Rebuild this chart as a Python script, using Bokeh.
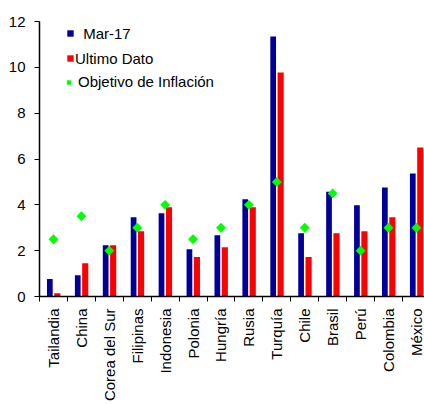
import numpy as np
from bokeh.plotting import figure
from bokeh.models import ColumnDataSource, FixedTicker, Range1d, Legend, LegendItem
from bokeh.transform import dodge
from bokeh.embed import file_html
from bokeh.resources import INLINE

# ---- data ----
paises = ["Tailandia", "China", "Corea del Sur", "Filipinas", "Indonesia", "Polonia",
          "Hungría", "Rusia", "Turquía", "Chile", "Brasil", "Perú", "Colombia", "México"]
mar17 = [0.76, 0.93, 2.24, 3.46, 3.63, 2.06, 2.67, 4.24, 11.35, 2.76, 4.57, 3.98, 4.76, 5.37]
ultimo_dato = [0.14, 1.45, 2.24, 2.85, 3.89, 1.72, 2.15, 3.89, 9.78, 1.72, 2.76, 2.85, 3.46, 6.50]
objetivo = [2.5, 3.5, 2.0, 3.0, 4.0, 2.5, 3.0, 4.0, 5.0, 3.0, 4.5, 2.0, 3.0, 3.0]
y_ticks = [0, 2, 4, 6, 8, 10, 12]
series_labels = [" Mar-17", "Ultimo Dato", "Objetivo de Inflación"]

BLUE = "#000099"
RED = "#FF0000"
GREEN = "#00FF00"
FONT = "Liberation Sans"

pos = [i + 0.5 for i in range(len(paises))]
bounds = list(range(len(paises) + 1))
src = ColumnDataSource(dict(x=pos, pais=paises, mar17=mar17, ultimo=ultimo_dato, objetivo=objetivo))

p = figure(width=424, height=404, x_range=Range1d(0, 13.79), y_range=Range1d(0, 12),
           output_backend="svg", toolbar_location=None,
           min_border_left=39, min_border_right=0, min_border_top=21, min_border_bottom=107)
p.outline_line_color = None
p.xgrid.visible = False
p.ygrid.visible = False
p.background_fill_color = "white"
p.border_fill_color = "white"

b1 = p.vbar(x=dodge("x", -0.13, range=p.x_range), top="mar17", width=0.205, source=src,
            fill_color=BLUE, line_color=None)
b2 = p.vbar(x=dodge("x", 0.138, range=p.x_range), top="ultimo", width=0.22, source=src,
            fill_color=RED, line_color=None)
dm = p.scatter(x="x", y="objetivo", marker="square", angle=np.pi / 4, size=7, source=src,
               fill_color=GREEN, line_color=None)


def add_legend(label, renderer, vx, vy, gw, gh, standoff):
    lg = Legend(items=[LegendItem(label=label, renderers=[renderer])], location=(vx, vy),
                glyph_width=gw, glyph_height=gh, label_height=20, label_standoff=standoff,
                padding=0, margin=0, spacing=0, border_line_color=None,
                background_fill_alpha=0, label_text_font=FONT, label_text_font_size="15px",
                label_text_color="black")
    p.add_layout(lg)


add_legend(series_labels[0], b1, 27, 253, 8, 8, 5)
add_legend(series_labels[1], b2, 27, 227.7, 8, 8, 1)
add_legend(series_labels[2], dm, 24, 204.3, 11, 20, 4)

# x axis
xa = p.xaxis[0]
xa.ticker = FixedTicker(ticks=pos, minor_ticks=bounds)
xa.major_label_overrides = {x: n for x, n in zip(pos, paises)}
xa.major_label_orientation = np.pi / 2
xa.major_tick_line_color = None
xa.major_tick_out = 5
xa.major_tick_in = 0
xa.major_label_standoff = 7
xa.minor_tick_line_color = "black"
xa.minor_tick_out = 5
xa.minor_tick_in = 0
xa.axis_line_color = "black"
xa.axis_line_width = 1.5
xa.major_label_text_font = FONT
xa.major_label_text_font_size = "15px"
xa.major_label_text_color = "black"

# y axis
ya = p.yaxis[0]
ya.ticker = FixedTicker(ticks=y_ticks)
ya.minor_tick_line_color = None
ya.major_tick_out = 5
ya.major_tick_in = 0
ya.major_tick_line_color = "black"
ya.major_label_standoff = 9
ya.axis_line_color = "black"
ya.axis_line_width = 1.5
ya.major_label_text_font = FONT
ya.major_label_text_font_size = "15px"
ya.major_label_text_color = "black"

open("out.html", "w").write(file_html(p, INLINE))
